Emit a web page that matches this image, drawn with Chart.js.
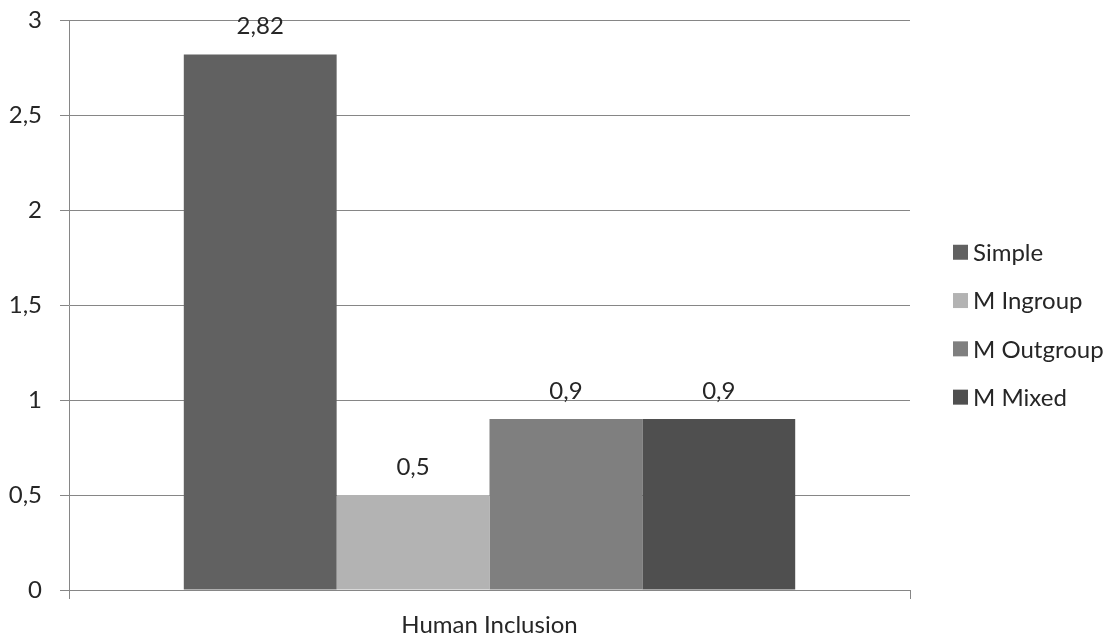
<!DOCTYPE html>
<html>
<head>
<meta charset="utf-8">
<script src="https://cdn.jsdelivr.net/npm/chart.js@4"></script>
<style>
  body { margin: 0; background: #fff; }
  #wrap { width: 1108px; height: 639px; }
</style>
</head>
<body>
<div id="wrap"><canvas id="bar_chart"></canvas></div>
<script>
var bar_chart = document.getElementById('bar_chart');

// data
const categories = ['Human Inclusion'];
const series_names = ['Simple', 'M Ingroup', 'M Outgroup', 'M Mixed'];
const simple_values = [2.82];
const ingroup_values = [0.5];
const outgroup_values = [0.9];
const mixed_values = [0.9];
const series_colors = ['#616161', '#b3b3b3', '#7f7f7f', '#4f4f4f'];
const y_ticks = [0, 0.5, 1, 1.5, 2, 2.5, 3];

const font_family = 'Lato, "Open Sans", sans-serif';
Chart.defaults.font.family = font_family;
Chart.defaults.font.size = 24;
Chart.defaults.color = '#262626';

function comma(v) {
  return String(v).replace('.', ',');
}

// value labels above the bars
const valueLabels = {
  id: 'valueLabels',
  afterDatasetsDraw(chart) {
    const ctx = chart.ctx;
    ctx.save();
    ctx.font = '24px ' + font_family;
    ctx.fillStyle = '#262626';
    ctx.textAlign = 'center';
    ctx.textBaseline = 'middle';
    chart.data.datasets.forEach((ds, i) => {
      chart.getDatasetMeta(i).data.forEach((bar, j) => {
        ctx.fillText(comma(ds.data[j]), bar.x, bar.y - 28);
      });
    });
    ctx.restore();
  }
};

// legend on the right, next to the plot area
const sideLegend = {
  id: 'sideLegend',
  afterDraw(chart) {
    const ctx = chart.ctx;
    const area = chart.chartArea;
    const step = 48.3;
    const n = chart.data.datasets.length;
    const top = (area.top + area.bottom) / 2 + 19.5 - step * (n - 1) / 2;
    ctx.save();
    ctx.font = '24px ' + font_family;
    ctx.textBaseline = 'middle';
    chart.data.datasets.forEach((ds, i) => {
      const y = top + i * step;
      ctx.fillStyle = ds.backgroundColor;
      ctx.fillRect(area.right + 43, y - 7.5, 15, 15);
      ctx.fillStyle = '#262626';
      ctx.fillText(ds.label, area.right + 63, y + 1);
    });
    ctx.restore();
  }
};

const data_bar = {
  labels: categories,
  datasets: [
    { label: series_names[0], data: simple_values, backgroundColor: series_colors[0] },
    { label: series_names[1], data: ingroup_values, backgroundColor: series_colors[1] },
    { label: series_names[2], data: outgroup_values, backgroundColor: series_colors[2] },
    { label: series_names[3], data: mixed_values, backgroundColor: series_colors[3] }
  ]
};

var barChart = new Chart(bar_chart, {
  type: 'bar',
  data: data_bar,
  plugins: [valueLabels, sideLegend],
  options: {
    responsive: true,
    maintainAspectRatio: false,
    animation: false,
    datasets: {
      bar: { categoryPercentage: 0.727, barPercentage: 1.0 }
    },
    layout: {
      padding: { left: 8, right: 198, top: 18, bottom: 0 }
    },
    plugins: {
      legend: { display: false },
      tooltip: { enabled: false }
    },
    scales: {
      x: {
        afterFit(axis) { axis.height = 49; },
        grid: {
          offset: true,
          drawOnChartArea: false,
          color: '#868686',
          tickLength: 9
        },
        border: { color: '#868686' },
        ticks: { padding: 12 }
      },
      y: {
        min: 0,
        max: 3,
        afterBuildTicks(axis) {
          axis.ticks = y_ticks.map(v => ({ value: v }));
        },
        afterFit(axis) { axis.width = 61; },
        grid: {
          color: '#868686',
          tickLength: 9
        },
        border: { color: '#868686' },
        ticks: {
          padding: 18,
          font: { lineHeight: 0.2 },
          callback: v => comma(v)
        }
      }
    }
  }
});
</script>
</body>
</html>
